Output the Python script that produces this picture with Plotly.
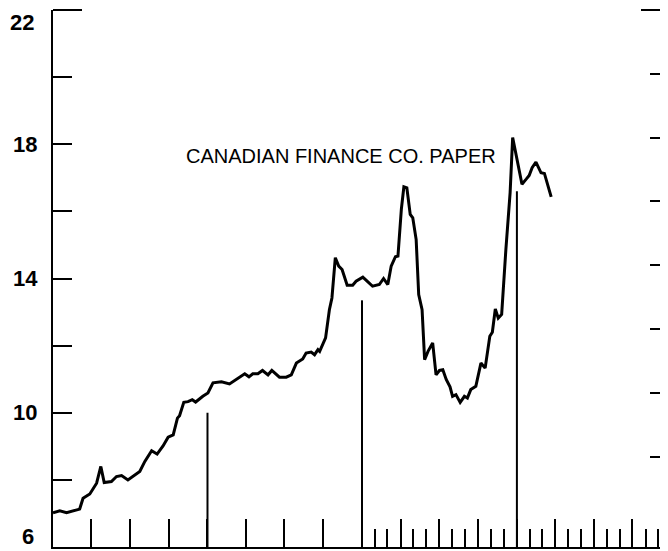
import plotly.graph_objects as go
import pandas as pd

# Canadian finance company paper rate (%)
dates = [
    "1978-01-01", "1978-01-17", "1978-02-02", "1978-02-17", "1978-03-05", "1978-03-13",
    "1978-03-29", "1978-04-14", "1978-04-24", "1978-05-02", "1978-05-19", "1978-05-31",
    "1978-06-12", "1978-06-27", "1978-07-13", "1978-07-25", "1978-08-06", "1978-08-22",
    "1978-09-04", "1978-09-18", "1978-09-30", "1978-10-12", "1978-10-22", "1978-10-27",
    "1978-11-06", "1978-11-16", "1978-11-26", "1978-12-04", "1978-12-21", "1979-01-02",
    "1979-01-14", "1979-02-03", "1979-02-22", "1979-03-10", "1979-03-30", "1979-04-09",
    "1979-04-18", "1979-04-30", "1979-05-11", "1979-05-24", "1979-06-02", "1979-06-20",
    "1979-07-06", "1979-07-18", "1979-07-30", "1979-08-14", "1979-08-22", "1979-09-03",
    "1979-09-11", "1979-09-19", "1979-09-23", "1979-10-07", "1979-10-16", "1979-10-22",
    "1979-10-30", "1979-11-07", "1979-11-15", "1979-11-27", "1979-12-10", "1979-12-18",
    "1980-01-03", "1980-01-15", "1980-01-26", "1980-02-11", "1980-02-21", "1980-03-02",
    "1980-03-10", "1980-03-20", "1980-03-26", "1980-04-03", "1980-04-09", "1980-04-16",
    "1980-04-24", "1980-04-30", "1980-05-08", "1980-05-14", "1980-05-22", "1980-05-28",
    "1980-06-05", "1980-06-16", "1980-06-24", "1980-07-02", "1980-07-10", "1980-07-18",
    "1980-07-27", "1980-08-02", "1980-08-10", "1980-08-20", "1980-08-30", "1980-09-06",
    "1980-09-14", "1980-09-26", "1980-10-08", "1980-10-18", "1980-10-29", "1980-11-04",
    "1980-11-11", "1980-11-18", "1980-11-26", "1980-12-06", "1980-12-16", "1980-12-22",
    "1981-01-13", "1981-01-23", "1981-01-30", "1981-02-06", "1981-02-15", "1981-02-27",
    "1981-03-07", "1981-03-23",
]
rates = [
    7.02, 7.08, 7.02, 7.07, 7.13, 7.45,
    7.58, 7.90, 8.40, 7.92, 7.95, 8.10,
    8.13, 8.00, 8.15, 8.25, 8.55, 8.87,
    8.77, 9.01, 9.27, 9.34, 9.84, 9.91,
    10.31, 10.33, 10.39, 10.32, 10.49, 10.59,
    10.89, 10.92, 10.86, 10.99, 11.16, 11.07,
    11.16, 11.16, 11.26, 11.13, 11.26, 11.06,
    11.06, 11.13, 11.48, 11.60, 11.78, 11.81,
    11.73, 11.88, 11.83, 12.23, 13.07, 13.42,
    14.62, 14.37, 14.27, 13.80, 13.80, 13.92,
    14.04, 13.90, 13.77, 13.82, 14.00, 13.82,
    14.37, 14.65, 14.67, 16.06, 16.73, 16.70,
    15.91, 15.81, 15.16, 13.52, 13.07, 11.58,
    11.83, 12.08, 11.13, 11.26, 11.28, 10.99,
    10.77, 10.49, 10.54, 10.31, 10.49, 10.44,
    10.69, 10.79, 11.48, 11.33, 12.28, 12.40,
    13.09, 12.82, 12.93, 14.87, 16.56, 18.20,
    16.81, 16.96, 17.07, 17.30, 17.47, 17.15,
    17.13, 16.43,
]

# Year-boundary marker lines and their heights
marker_dates = ["1979-01-01", "1980-01-01", "1981-01-01"]
marker_tops = [10.0, 13.35, 16.6]

y_tick_vals = [6, 8, 10, 12, 14, 16, 18, 20, 22]
y_tick_text = ["", "", "10", "", "14", "", "18", "", ""]
edge_labels = ["22", "6"]          # end labels of the left scale
right_tick_vals = [8, 10, 12, 14, 16, 18, 20, 22]

title_text = "CANADIAN FINANCE CO. PAPER"

x_range = ["1978-01-01", "1981-12-24"]

monthly = pd.date_range("1980-01-01", "1981-12-01", freq="MS")
month_ticks = [d.strftime("%Y-%m-%d") for d in monthly if d.month % 3 != 1]

label_font = dict(family="Liberation Sans", size=22, color="black", weight="bold")

fig = go.Figure()

mx, my = [], []
for d, t in zip(marker_dates, marker_tops):
    mx += [d, d, None]
    my += [6, t, None]
fig.add_trace(go.Scatter(x=mx, y=my, mode="lines",
                         line=dict(color="black", width=2),
                         showlegend=False, hoverinfo="skip"))

fig.add_trace(go.Scatter(x=dates, y=rates, mode="lines",
                         line=dict(color="black", width=3),
                         showlegend=False))

fig.add_trace(go.Scatter(x=[None], y=[None], xaxis="x2", yaxis="y2",
                         showlegend=False, hoverinfo="skip"))

fig.update_layout(
    width=660, height=543,
    margin=dict(l=45, r=0, t=2, b=4, autoexpand=False),
    paper_bgcolor="white", plot_bgcolor="white",
    showlegend=False,
    xaxis=dict(
        type="date", range=x_range, automargin=False,
        showline=True, linewidth=2, linecolor="black",
        ticks="inside", ticklen=28, tickwidth=2, tickcolor="black",
        tick0="1978-01-01", dtick="M3",
        showticklabels=False, showgrid=False, zeroline=False,
    ),
    xaxis2=dict(
        type="date", range=x_range, overlaying="x", anchor="y", automargin=False,
        tickmode="array", tickvals=month_ticks,
        ticks="inside", ticklen=18, tickwidth=2, tickcolor="black",
        showline=False, showticklabels=False, showgrid=False, zeroline=False,
    ),
    yaxis=dict(
        range=[6, 22], automargin=False,
        tickmode="array", tickvals=y_tick_vals, ticktext=y_tick_text,
        ticks="inside", ticklen=19, tickwidth=2, tickcolor="black",
        showline=True, linewidth=2, linecolor="black",
        showgrid=False, zeroline=False,
        tickfont=label_font,
        ticklabelstandoff=9, ticklabeloverflow="allow",
    ),
    yaxis2=dict(
        range=[5.166, 22], overlaying="y", side="right", anchor="x", automargin=False,
        tickmode="array", tickvals=right_tick_vals,
        ticks="inside", ticklen=18, tickwidth=2, tickcolor="black",
        showline=False, showticklabels=False, showgrid=False, zeroline=False,
    ),
    annotations=[
        dict(text=title_text, xref="paper", yref="paper",
             x=0.469, y=0.729, xanchor="center", yanchor="middle",
             showarrow=False,
             font=dict(family="Liberation Sans", size=20, color="black")),
        dict(text=edge_labels[0], xref="paper", yref="paper",
             x=0, y=1, xanchor="right", yanchor="top", xshift=-17, yshift=2,
             showarrow=False, font=label_font),
        dict(text=edge_labels[1], xref="paper", yref="paper",
             x=0, y=0, xanchor="right", yanchor="bottom", xshift=-17, yshift=-4,
             showarrow=False, font=label_font),
    ],
    shapes=[
        dict(type="line", xref="paper", yref="paper", x0=0, x1=29 / 615, y0=1, y1=1,
             line=dict(color="black", width=2)),
        dict(type="line", xref="paper", yref="paper", x0=1 - 27 / 615, x1=1, y0=1, y1=1,
             line=dict(color="black", width=2)),
    ],
)

fig.write_html("out.html")
